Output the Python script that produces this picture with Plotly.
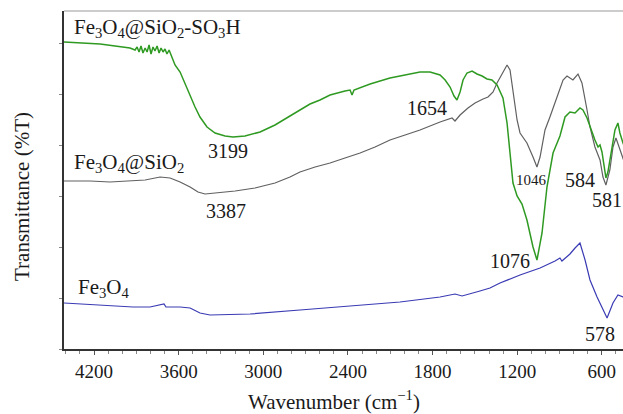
import plotly.graph_objects as go

# Wavenumbers (cm-1) and transmittance (arbitrary, stacked)
wn_sulfo = [4413, 4299, 4157, 4051, 3945, 3909, 3895, 3881, 3867, 3853, 3838, 3824, 3810, 3796,
            3782, 3768, 3753, 3739, 3725, 3711, 3697, 3683, 3668, 3654, 3626, 3590, 3555, 3519,
            3484, 3449, 3399, 3342, 3271, 3215, 3130, 3023, 2917, 2811, 2740, 2669, 2598, 2527,
            2421, 2385, 2371, 2357, 2243, 2102, 1960, 1889, 1818, 1747, 1711, 1676, 1648, 1627,
            1605, 1584, 1556, 1520, 1485, 1449, 1414, 1379, 1343, 1301, 1272, 1251, 1230, 1201,
            1166, 1131, 1088, 1060, 1024, 989, 946, 897, 861, 826, 790, 755, 734, 705, 684, 649,
            627, 613, 599, 585, 571, 557, 535, 507, 486, 472, 450, 429]
t_sulfo = [307, 306, 305, 303, 301, 299, 302, 297, 303, 296, 301, 297, 304, 295,
           302, 298, 303, 296, 301, 297, 300, 295, 299, 294, 284, 277, 265, 254,
           242, 232, 222, 216, 213, 212, 213, 217, 224, 233, 239, 245, 249, 254,
           258, 259, 254, 259, 265, 271, 275, 277, 277, 274, 269, 262, 253, 249,
           257, 269, 276, 278, 275, 273, 270, 269, 264, 251, 226, 199, 166, 153,
           145, 129, 102, 89, 116, 162, 196, 213, 232, 237, 236, 241, 239, 231, 222, 209,
           202, 204, 197, 181, 171, 177, 194, 219, 226, 216, 206, 199]

wn_silica = [4413, 4228, 4087, 3945, 3838, 3732, 3661, 3590, 3519, 3463, 3413, 3342, 3200, 3059,
             2917, 2811, 2740, 2633, 2527, 2421, 2314, 2208, 2102, 1995, 1889, 1747, 1662, 1641,
             1605, 1549, 1499, 1442, 1407, 1393, 1371, 1343, 1301, 1272, 1251, 1230, 1201, 1180,
             1131, 1088, 1060, 1038, 1003, 968, 918, 875, 847, 826, 805, 769, 741, 705, 684, 649,
             613, 592, 571, 543, 521, 500, 472, 450, 429]
t_silica = [168, 168, 167, 168, 169, 172, 171, 167, 162, 157, 155, 156, 158, 161,
            166, 172, 177, 182, 186, 191, 196, 202, 209, 214, 219, 227, 231, 228,
            234, 241, 246, 250, 252, 254, 257, 266, 277, 284, 279, 259, 229, 216,
            206, 192, 182, 192, 219, 232, 252, 269, 273, 271, 269, 275, 266, 239, 222, 202,
            189, 172, 164, 179, 202, 211, 199, 189, 182]

wn_fe3o4 = [4413, 4299, 4157, 3924, 3803, 3704, 3690, 3590, 3519, 3449, 3378, 3094, 2740, 2385,
            2031, 1747, 1641, 1591, 1535, 1464, 1393, 1322, 1180, 1038, 932, 897, 883, 826, 790,
            755, 719, 684, 634, 592, 563, 521, 486, 450, 429]
t_fe3o4 = [46, 45, 44, 42, 42, 45, 42, 42, 41, 36, 34, 35, 39, 43,
           47, 52, 55, 53, 55, 58, 61, 66, 74, 81, 88, 91, 88, 95, 101,
           106, 89, 69, 52, 39, 31, 46, 54, 52, 50]

x_ticks = [4200, 3600, 3000, 2400, 1800, 1200, 600]

serif = "Liberation Serif, Times New Roman, serif"

fig = go.Figure()
fig.add_trace(go.Scatter(x=wn_fe3o4, y=t_fe3o4, mode="lines",
                         line=dict(color="#3a3ab4", width=1.2), showlegend=False))
fig.add_trace(go.Scatter(x=wn_silica, y=t_silica, mode="lines",
                         line=dict(color="#606060", width=1.2), showlegend=False))
fig.add_trace(go.Scatter(x=wn_sulfo, y=t_sulfo, mode="lines",
                         line=dict(color="#2f9a22", width=1.5), showlegend=False))

labels = [
    ("Fe<sub>3</sub>O<sub>4</sub>@SiO<sub>2</sub>-SO<sub>3</sub>H", 4356, 321, "left", 21),
    ("Fe<sub>3</sub>O<sub>4</sub>@SiO<sub>2</sub>", 4356, 186, "left", 21),
    ("Fe<sub>3</sub>O<sub>4</sub>", 4328, 61, "left", 21),
    ("3199", 3250, 198, "center", 20),
    ("3387", 3264, 138, "center", 20),
    ("1654", 1839, 241, "center", 20),
    ("1046", 1102, 169, "center", 15),
    ("584", 755, 169, "center", 20),
    ("581", 563, 149, "center", 20),
    ("1076", 1251, 88, "center", 20),
    ("578", 613, 15, "center", 20),
]
for text, x, y, anchor, size in labels:
    fig.add_annotation(x=x, y=y, text=text, showarrow=False, xanchor=anchor, yanchor="middle",
                       font=dict(family=serif, size=size, color="#1a1a1a"))

fig.add_annotation(xref="paper", yref="paper", x=-0.075, y=0.45, text="Transmittance (%T)",
                   textangle=-90, showarrow=False, xanchor="center", yanchor="middle",
                   font=dict(family=serif, size=21, color="#1a1a1a"))
fig.add_annotation(xref="paper", yref="paper", x=0.483, y=-0.153,
                   text="Wavenumber (cm<sup>\u22121</sup>)", showarrow=False,
                   xanchor="center", yanchor="middle",
                   font=dict(family=serif, size=21, color="#1a1a1a"))

fig.add_shape(type="line", xref="paper", yref="paper", x0=0, x1=1, y0=1, y1=1,
              line=dict(color="#9a9a9a", width=1.2))

fig.update_layout(
    width=623, height=414,
    margin=dict(l=64, r=0, t=11, b=65),
    paper_bgcolor="white", plot_bgcolor="white",
    xaxis=dict(range=[4413, 450], tickvals=x_ticks, ticks="outside", ticklen=4,
               tickcolor="#555", showline=True, linecolor="#333", linewidth=1.8,
               showgrid=False, zeroline=False,
               tickfont=dict(family=serif, size=19, color="#1a1a1a"),
               minor=dict(dtick=100, tick0=0, ticks="outside", ticklen=3, tickcolor="#888")),
    yaxis=dict(range=[0, 338], tick0=0, dtick=51, ticks="outside", ticklen=3,
               tickcolor="#888", showticklabels=False, showline=True, linecolor="#333",
               linewidth=1.8, showgrid=False, zeroline=False),
)

fig.write_html("out.html")
